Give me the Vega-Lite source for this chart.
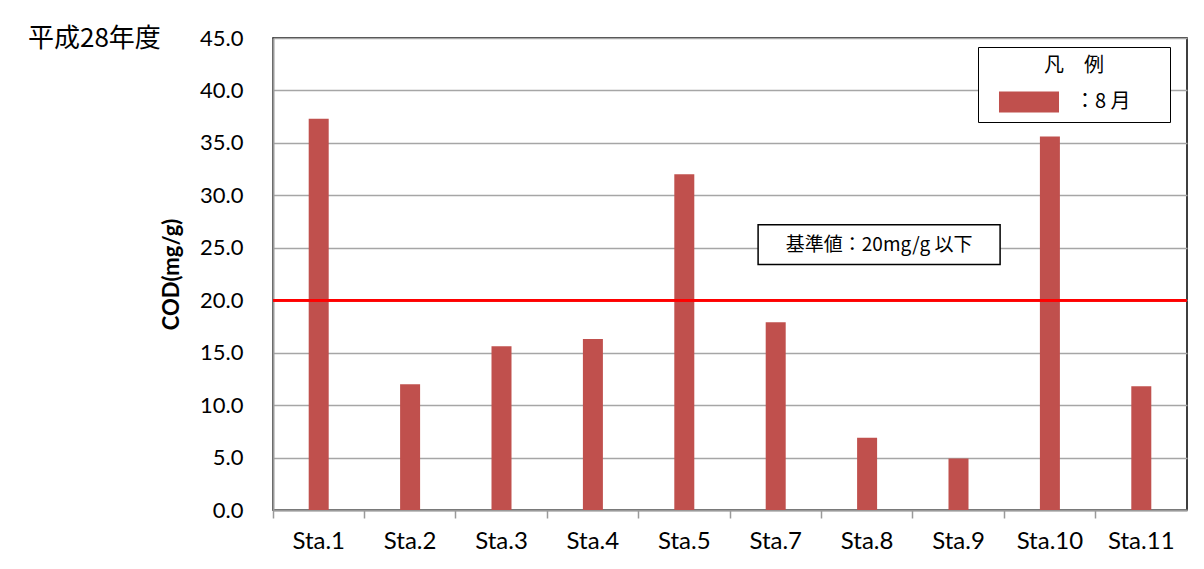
{
  "$schema": "https://vega.github.io/schema/vega-lite/v6.json",
  "autosize": "none",
  "width": 914,
  "height": 472,
  "padding": {"left": 273, "top": 38, "right": 17, "bottom": 59},
  "background": "white",
  "config": {
    "view": {"stroke": "black", "strokeWidth": 1.5},
    "font": "Noto Sans CJK JP"
  },
  "title": {
    "text": "平成28年度",
    "anchor": "start",
    "frame": "group",
    "orient": "top",
    "offset": 0,
    "baseline": "middle",
    "dx": -245,
    "dy": 38,
    "fontSize": 26,
    "fontWeight": "normal",
    "font": "Noto Sans CJK JP",
    "color": "black"
  },
  "data": {
    "values": [
      {"station": "Sta.1", "cod": 37.3, "month": "8月"},
      {"station": "Sta.2", "cod": 12.0, "month": "8月"},
      {"station": "Sta.3", "cod": 15.6, "month": "8月"},
      {"station": "Sta.4", "cod": 16.3, "month": "8月"},
      {"station": "Sta.5", "cod": 32.0, "month": "8月"},
      {"station": "Sta.7", "cod": 17.9, "month": "8月"},
      {"station": "Sta.8", "cod": 6.9, "month": "8月"},
      {"station": "Sta.9", "cod": 4.9, "month": "8月"},
      {"station": "Sta.10", "cod": 35.6, "month": "8月"},
      {"station": "Sta.11", "cod": 11.8, "month": "8月"}
    ]
  },
  "layer": [
    {
      "mark": {"type": "bar", "size": 20, "color": "#C0504D"},
      "encoding": {
        "x": {
          "field": "station",
          "type": "nominal",
          "sort": null,
          "scale": {"paddingInner": 0, "paddingOuter": 0},
          "axis": {
            "title": null,
            "labelAngle": 0,
            "labelFont": "Lato",
            "labelFontSize": 24,
            "labelColor": "black",
            "labelPadding": 11,
            "bandPosition": 0,
            "tickColor": "#9a9a9a",
            "tickWidth": 1.5,
            "tickSize": 8,
            "domainColor": "#9a9a9a",
            "domainWidth": 2,
            "grid": false
          }
        },
        "y": {
          "field": "cod",
          "type": "quantitative",
          "scale": {"domain": [0, 45], "nice": false},
          "axis": {
            "title": "COD(mg/g)",
            "titleFont": "Lato",
            "titleFontSize": 22,
            "titleFontWeight": "bold",
            "titleColor": "black",
            "titlePadding": 16,
            "values": [0, 5, 10, 15, 20, 25, 30, 35, 40, 45],
            "format": ".1f",
            "labelFont": "Lato",
            "labelFontSize": 22,
            "labelColor": "black",
            "labelPadding": 30,
            "ticks": false,
            "domainColor": "#9a9a9a",
            "domainWidth": 2,
            "grid": true,
            "gridColor": "#a6a6a6",
            "gridWidth": 1.5
          }
        },
        "fill": {
          "field": "month",
          "type": "nominal",
          "scale": {"range": ["#C0504D"]},
          "legend": {
            "orient": "none",
            "legendX": 705,
            "legendY": 9,
            "title": "凡　例",
            "titleFont": "Noto Sans CJK JP",
            "titleFontSize": 20,
            "titleFontWeight": "normal",
            "titleColor": "black",
            "titleAnchor": "middle",
            "titlePadding": 8,
            "strokeColor": "black",
            "fillColor": "white",
            "padding": 9,
            "symbolType": "M-1.667,-0.583H1.667V0.583H-1.667Z",
            "symbolSize": 1296,
            "symbolOffset": 24,
            "symbolStrokeWidth": 0,
            "labelExpr": "'：8 月\u2800\u2800'",
            "labelFont": "Noto Sans CJK JP",
            "labelFontSize": 20,
            "labelColor": "black",
            "labelOffset": 28
          }
        }
      }
    },
    {
      "mark": {"type": "rule", "color": "#FF0000", "strokeWidth": 2},
      "encoding": {"y": {"datum": 20, "type": "quantitative"}}
    },
    {
      "data": {"values": [{"station": "Sta.8", "lo": 23.4, "hi": 27.2, "mid": 25.3, "label": "基準値：20mg/g 以下"}]},
      "layer": [
        {
          "mark": {"type": "bar", "width": 242, "fill": "white", "stroke": "black", "strokeWidth": 1.5, "xOffset": 12},
          "encoding": {
            "x": {"field": "station", "type": "nominal", "sort": null},
            "y": {"field": "lo", "type": "quantitative"},
            "y2": {"field": "hi"}
          }
        },
        {
          "mark": {"type": "text", "fontSize": 19, "font": "Noto Sans CJK JP", "color": "black", "xOffset": 12},
          "encoding": {
            "x": {"field": "station", "type": "nominal", "sort": null},
            "y": {"field": "mid", "type": "quantitative"},
            "text": {"field": "label"}
          }
        }
      ]
    }
  ]
}
